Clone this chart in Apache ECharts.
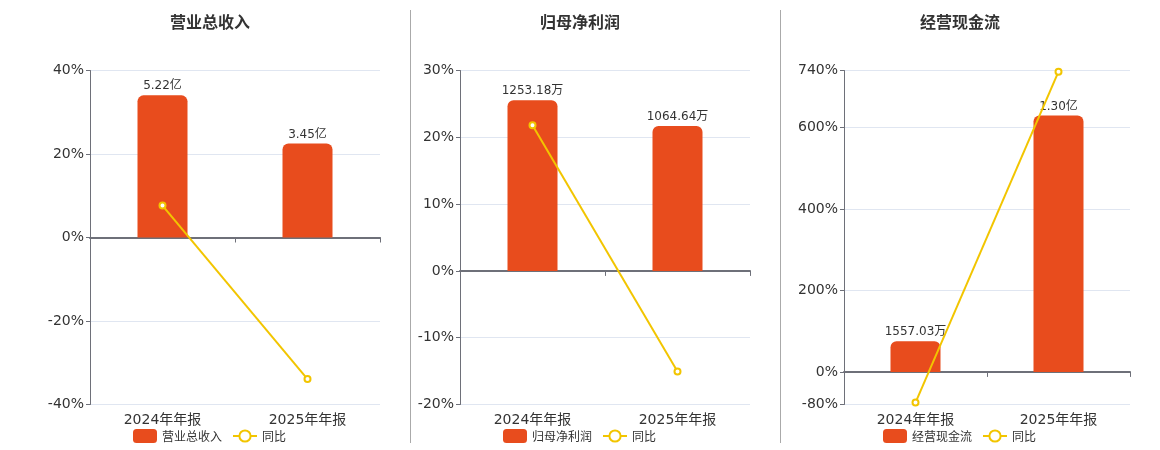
<!DOCTYPE html>
<html>
<head>
<meta charset="utf-8">
<script src="https://cdn.jsdelivr.net/npm/echarts@6/dist/echarts.min.js"></script>
<style>
html,body{margin:0;padding:0;background:#fff;}
#main{width:1160px;height:450px;}
</style>
</head>
<body>
<div id="main"></div>
<script>
const categories = ['2024年年报', '2025年年报'];
const panelTitles = ['营业总收入', '归母净利润', '经营现金流'];
const yoyName = '同比';

const revenueValues = [522000000, 345000000];
const revenueYoy = [7.65, -33.9];
const revenueTicks = [-40, -20, 0, 20, 40];

const profitValues = [12531800, 10646400];
const profitYoy = [21.8, -15.05];
const profitTicks = [-20, -10, 0, 10, 20, 30];

const cashValues = [15570300, 130000000];
const cashYoy = [-75.3, 737];
const cashTicks = [-80, 0, 200, 400, 600, 740];

const panels = [
  { title: panelTitles[0], values: revenueValues, yoy: revenueYoy, ticks: revenueTicks },
  { title: panelTitles[1], values: profitValues, yoy: profitYoy, ticks: profitTicks },
  { title: panelTitles[2], values: cashValues, yoy: cashYoy, ticks: cashTicks }
];

const layout = [
  { left: 90, width: 290, center: 210, legendLeft: 128 },
  { left: 460, width: 290, center: 580, legendLeft: 498 },
  { left: 844, width: 286, center: 960, legendLeft: 878 }
];

const BAR_COLOR = '#E84C1D';
const LINE_COLOR = '#F2C500';
const TEXT_COLOR = '#333333';
const AXIS_COLOR = '#6E7079';

function fmtMoney(v) {
  if (Math.abs(v) >= 1e8) return (v / 1e8).toFixed(2) + '亿';
  return (v / 1e4).toFixed(2) + '万';
}

const option = {
  backgroundColor: '#fff',
  animation: false,
  title: [], grid: [], xAxis: [], yAxis: [], series: [], legend: [],
  graphic: [
    { type: 'line', shape: { x1: 410.5, y1: 10, x2: 410.5, y2: 443 }, style: { stroke: '#AAAAAA', lineWidth: 1 } },
    { type: 'line', shape: { x1: 780.5, y1: 10, x2: 780.5, y2: 443 }, style: { stroke: '#AAAAAA', lineWidth: 1 } }
  ]
};

panels.forEach((p, i) => {
  const L = layout[i];
  const tMin = p.ticks[0], tMax = p.ticks[p.ticks.length - 1];
  const barMax = Math.max.apply(null, p.values) * 1.175;
  const barMin = barMax * tMin / tMax;

  option.title.push({
    text: p.title, left: L.center, top: 14, textAlign: 'center', padding: 0,
    textStyle: { fontSize: 16, fontWeight: 'bold', color: TEXT_COLOR, fontFamily: 'Noto Sans CJK SC' }
  });
  option.grid.push({ left: L.left, width: L.width, top: 70.5, bottom: 45.5, containLabel: false });

  option.xAxis.push({
    type: 'category', gridIndex: i, data: categories,
    axisLine: { onZero: true, lineStyle: { color: AXIS_COLOR, width: 2 } },
    axisTick: { show: true, length: 5, lineStyle: { color: AXIS_COLOR } },
    axisLabel: { show: false }
  });
  option.xAxis.push({
    type: 'category', gridIndex: i, data: categories, position: 'bottom',
    axisLine: { show: false, onZero: false }, axisTick: { show: false },
    axisLabel: { show: true, fontSize: 14, color: TEXT_COLOR, margin: 9, fontFamily: 'DejaVu Sans, Noto Sans CJK SC' }
  });

  option.yAxis.push({
    type: 'value', gridIndex: i, min: tMin, max: tMax,
    axisLine: { show: true, lineStyle: { color: AXIS_COLOR, width: 1 } },
    axisTick: { show: true, length: 4, customValues: p.ticks, lineStyle: { color: AXIS_COLOR } },
    axisLabel: { formatter: '{value}%', fontSize: 14, color: TEXT_COLOR, margin: 6, customValues: p.ticks, fontFamily: 'DejaVu Sans' },
    splitLine: { show: true, lineStyle: { color: '#E0E6F1' } }
  });
  option.yAxis.push({
    type: 'value', gridIndex: i, min: barMin, max: barMax, show: false,
    splitLine: { show: false }
  });

  option.series.push({
    name: p.title, type: 'bar', xAxisIndex: 2 * i, yAxisIndex: 2 * i + 1,
    data: p.values, barWidth: 50,
    itemStyle: { color: BAR_COLOR, borderRadius: [6, 6, 0, 0] },
    label: { show: true, position: 'top', distance: 3, fontSize: 12, color: TEXT_COLOR, fontFamily: 'DejaVu Sans, Noto Sans CJK SC',
      formatter: (d) => fmtMoney(d.value) }
  });
  option.series.push({
    name: yoyName, type: 'line', xAxisIndex: 2 * i, yAxisIndex: 2 * i,
    data: p.yoy, symbol: 'emptyCircle', symbolSize: 6,
    lineStyle: { color: LINE_COLOR, width: 2 },
    itemStyle: { color: LINE_COLOR, borderColor: LINE_COLOR, borderWidth: 2 },
    z: 5
  });

  option.legend.push({
    data: [p.title, yoyName], left: L.legendLeft, top: 424, itemWidth: 24, itemHeight: 14, itemGap: 10,
    textStyle: { fontSize: 12, color: TEXT_COLOR, fontFamily: 'Noto Sans CJK SC' }, selectedMode: false
  });
});

const chart = echarts.init(document.getElementById('main'));
chart.setOption(option);
</script>
</body>
</html>
